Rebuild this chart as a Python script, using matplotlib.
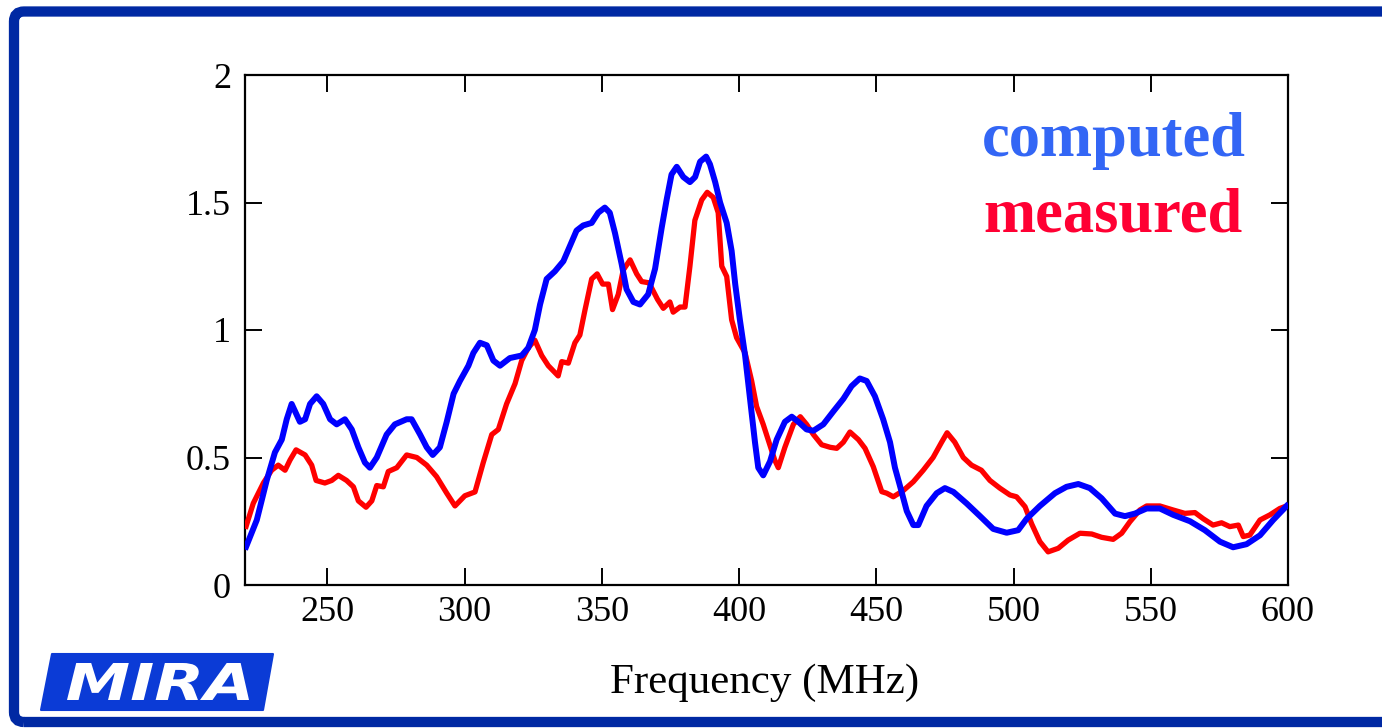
import matplotlib
matplotlib.use("Agg")
import matplotlib.pyplot as plt
from matplotlib.patches import FancyBboxPatch, Polygon, PathPatch
from matplotlib.textpath import TextPath
from matplotlib.font_manager import FontProperties
from matplotlib.transforms import Affine2D, IdentityTransform

# ---------------- data ----------------
computed_freq = [220.4, 224.3, 227.9, 230.9, 233.4, 235.2, 237.0, 240.0, 241.9, 243.7,
                 246.1, 248.5, 251.0, 253.4, 256.4, 258.9, 261.3, 263.7, 265.5, 268.0,
                 271.6, 274.6, 278.9, 280.7, 283.8, 286.2, 288.4, 291.0, 293.5, 296.0,
                 298.3, 301.4, 303.2, 305.6, 308.1, 310.5, 312.9, 316.5, 320.8, 323.2,
                 325.6, 327.5, 329.9, 332.9, 336.0, 338.4, 340.8, 343.2, 346.3, 348.7,
                 351.1, 352.9, 354.8, 357.2, 359.0, 361.5, 363.9, 366.9, 369.4, 371.8,
                 373.6, 375.4, 377.3, 379.7, 382.1, 384.0, 385.8, 388.0, 389.4, 391.3,
                 393.1, 395.5, 397.3, 398.6, 400.3, 402.2, 404.0, 405.8, 407.0, 408.8,
                 411.3, 413.7, 416.7, 419.2, 421.6, 424.6, 427.1, 430.7, 434.3, 438.0,
                 441.0, 444.0, 446.5, 449.5, 452.5, 455.0, 456.8, 458.6, 461.1, 463.5,
                 465.3, 468.3, 472.0, 475.0, 478.1, 482.9, 487.8, 492.6, 497.5, 501.7,
                 504.8, 509.6, 515.1, 519.3, 523.6, 527.8, 532.1, 537.0, 540.6, 544.2,
                 548.5, 553.3, 558.2, 564.3, 569.7, 575.2, 580.0, 584.9, 589.8, 594.6,
                 599.5]
computed_vals = [0.15, 0.255, 0.41, 0.52, 0.57, 0.65, 0.71, 0.64, 0.65, 0.71,
                 0.74, 0.71, 0.65, 0.63, 0.65, 0.61, 0.54, 0.48, 0.46, 0.50,
                 0.59, 0.63, 0.65, 0.65, 0.59, 0.54, 0.51, 0.54, 0.64, 0.75,
                 0.80, 0.86, 0.91, 0.95, 0.94, 0.88, 0.86, 0.89, 0.90, 0.93,
                 1.00, 1.10, 1.20, 1.23, 1.27, 1.33, 1.39, 1.41, 1.42, 1.46,
                 1.48, 1.46, 1.38, 1.26, 1.16, 1.11, 1.10, 1.14, 1.24, 1.40,
                 1.51, 1.61, 1.64, 1.60, 1.58, 1.60, 1.66, 1.68, 1.65, 1.58,
                 1.50, 1.42, 1.31, 1.18, 1.04, 0.90, 0.73, 0.56, 0.46, 0.43,
                 0.485, 0.57, 0.64, 0.66, 0.64, 0.61, 0.605, 0.63, 0.68, 0.73,
                 0.78, 0.81, 0.80, 0.74, 0.65, 0.56, 0.46, 0.39, 0.29, 0.235,
                 0.235, 0.31, 0.36, 0.38, 0.365, 0.32, 0.27, 0.22, 0.205, 0.215,
                 0.26, 0.31, 0.36, 0.385, 0.396, 0.38, 0.34, 0.28, 0.27, 0.28,
                 0.30, 0.30, 0.275, 0.25, 0.215, 0.17, 0.148, 0.16, 0.195, 0.255,
                 0.31]

measured_freq = [220.4, 223.0, 226.7, 229.7, 232.1, 234.6, 236.4, 238.6, 241.9, 244.3,
                 245.9, 249.1, 251.6, 254.0, 257.0, 259.5, 261.3, 264.1, 266.2, 268.0,
                 270.4, 272.2, 275.3, 278.9, 282.6, 286.2, 289.8, 293.5, 296.5, 300.1,
                 303.8, 306.8, 309.9, 312.3, 315.3, 318.4, 320.8, 323.2, 325.6, 328.1,
                 330.5, 334.1, 335.4, 337.8, 340.2, 342.0, 343.9, 346.3, 348.3, 350.3,
                 352.4, 353.9, 356.0, 357.8, 360.3, 362.7, 364.5, 367.2, 370.3, 372.4,
                 374.8, 376.0, 378.5, 380.3, 382.1, 383.9, 386.4, 388.4, 390.6, 392.4,
                 393.7, 395.5, 397.3, 399.1, 402.2, 404.6, 406.4, 408.8, 410.6, 413.0,
                 414.3, 416.7, 419.8, 422.3, 424.6, 427.1, 430.1, 433.2, 435.6, 438.0,
                 440.4, 443.5, 445.9, 448.9, 452.0, 453.8, 456.2, 459.8, 463.5, 467.1,
                 470.7, 473.8, 475.8, 478.6, 481.7, 484.7, 488.3, 491.4, 495.0, 498.7,
                 501.1, 504.2, 506.6, 509.6, 512.6, 516.3, 519.9, 524.2, 528.5, 532.1,
                 536.3, 539.4, 542.4, 546.0, 548.5, 553.3, 558.2, 562.4, 566.1, 569.1,
                 572.7, 575.8, 578.8, 581.9, 583.7, 586.1, 589.8, 593.4, 597.0, 599.5]
measured_vals = [0.23, 0.32, 0.40, 0.45, 0.47, 0.45, 0.49, 0.53, 0.51, 0.47,
                 0.41, 0.40, 0.41, 0.43, 0.41, 0.385, 0.33, 0.305, 0.33, 0.39,
                 0.385, 0.445, 0.46, 0.51, 0.50, 0.47, 0.425, 0.36, 0.31, 0.35,
                 0.365, 0.48, 0.59, 0.61, 0.71, 0.79, 0.88, 0.93, 0.96, 0.90,
                 0.86, 0.82, 0.876, 0.87, 0.95, 0.98, 1.08, 1.20, 1.22, 1.18,
                 1.18, 1.08, 1.14, 1.235, 1.275, 1.22, 1.19, 1.185, 1.12, 1.085,
                 1.11, 1.07, 1.09, 1.09, 1.25, 1.43, 1.51, 1.54, 1.52, 1.46,
                 1.25, 1.21, 1.04, 0.97, 0.91, 0.80, 0.70, 0.63, 0.57, 0.49,
                 0.46, 0.54, 0.63, 0.66, 0.63, 0.59, 0.55, 0.54, 0.536, 0.56,
                 0.60, 0.57, 0.536, 0.464, 0.366, 0.36, 0.346, 0.37, 0.405, 0.45,
                 0.50, 0.56, 0.597, 0.56, 0.50, 0.47, 0.45, 0.41, 0.38, 0.353,
                 0.346, 0.307, 0.24, 0.17, 0.13, 0.144, 0.176, 0.203, 0.20, 0.187,
                 0.179, 0.203, 0.248, 0.294, 0.31, 0.31, 0.294, 0.281, 0.284, 0.26,
                 0.235, 0.244, 0.229, 0.235, 0.19, 0.196, 0.255, 0.275, 0.30, 0.31]

x_ticks = [250, 300, 350, 400, 450, 500, 550, 600]
y_ticks = [0, 0.5, 1, 1.5, 2]
y_tick_labels = ["0", "0.5", "1", "1.5", "2"]
x_label = "Frequency (MHz)"
series_names = ["computed", "measured"]

# ---------------- figure ----------------
W, H = 1382, 728
fig = plt.figure(figsize=(W / 100, H / 100), dpi=100)
fig.patch.set_facecolor("white")

serif = ["Liberation Serif", "DejaVu Serif"]

# slide frame
frame = FancyBboxPatch((14, 6), W + 40, H - 17.5,
                       boxstyle="round,pad=0,rounding_size=10",
                       transform=IdentityTransform(), fill=False,
                       edgecolor="#0029A3", linewidth=7.4, zorder=0)
fig.patches.append(frame)

# axes
L, R, T, B = 245, 1288, 75, 585
ax = fig.add_axes([L / W, 1 - B / H, (R - L) / W, (B - T) / H])
ax.plot(measured_freq, measured_vals, color="#FF0000", lw=3.8,
        solid_joinstyle="round", zorder=3)
ax.plot(computed_freq, computed_vals, color="#0000FF", lw=4.3,
        solid_joinstyle="round", zorder=4)

ax.set_xlim(220, 600)
ax.set_ylim(0, 2)
ax.set_xticks(x_ticks)
ax.set_xticklabels([str(t) for t in x_ticks])
ax.set_yticks(y_ticks)
ax.set_yticklabels(y_tick_labels)
ax.tick_params(direction="in", length=12, width=1.4, top=True, right=True,
               labelsize=26, colors="black")
ax.tick_params(axis="y", pad=10)
ax.tick_params(axis="x", pad=8)
for lab in ax.get_xticklabels() + ax.get_yticklabels():
    lab.set_family(serif)
for sp in ax.spines.values():
    sp.set_linewidth(1.6)

fig.text(765 / W, 1 - 693 / H, x_label, ha="center", va="baseline",
         fontsize=31, family=serif)

# legend-like labels
fig.text(1246 / W, 1 - 156 / H, series_names[0], ha="right", va="baseline",
         fontsize=45, fontweight="bold", family=serif, color="#3366F5")
fig.text(1243 / W, 1 - 232 / H, series_names[1], ha="right", va="baseline",
         fontsize=45, fontweight="bold", family=serif, color="#FF0033")

# MIRA logo
logo_pts = [(52, H - 654), (273, H - 654), (263, H - 710), (41, H - 710)]
logo = Polygon(logo_pts, closed=True, transform=IdentityTransform(),
               facecolor="#0B3BD6", edgecolor="#0B3BD6", lw=1.5,
               joinstyle="round", zorder=2)
fig.patches.append(logo)
tp = TextPath((0, 0), "MIRA", size=1,
              prop=FontProperties(family="DejaVu Sans", weight="bold", style="italic"))
ext = tp.get_extents()
x0, x1, y0, y1 = 67, 249, H - 700, H - 663
tr = (Affine2D().translate(-ext.x0, -ext.y0)
      .scale((x1 - x0) / ext.width, (y1 - y0) / ext.height)
      .translate(x0, y0))
mira = PathPatch(tr.transform_path(tp), transform=IdentityTransform(),
                 facecolor="white", edgecolor="none", zorder=3)
fig.patches.append(mira)

fig.savefig("out.png", dpi=100, facecolor="white")
